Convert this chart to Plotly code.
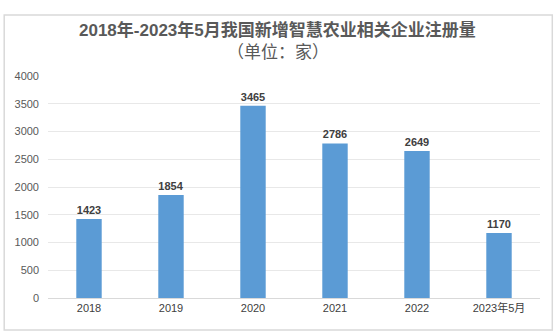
import plotly.graph_objects as go

categories = ["2018", "2019", "2020", "2021", "2022", "2023年5月"]
values = [1423, 1854, 3465, 2786, 2649, 1170]
y_ticks = [0, 500, 1000, 1500, 2000, 2500, 3000, 3500, 4000]

font_fam = "Liberation Sans, Noto Sans CJK SC, sans-serif"

fig = go.Figure(go.Bar(
    x=categories, y=values,
    marker=dict(color="#5B9BD5", line=dict(width=0)),
    width=0.31,
    text=[str(v) for v in values],
    textposition="outside",
    textfont=dict(size=11, color="#404040", family=font_fam),
    texttemplate="<b>%{text}</b>",
    cliponaxis=False,
))

fig.update_layout(
    width=559, height=333,
    margin=dict(l=48, r=19, t=76, b=35),
    paper_bgcolor="white", plot_bgcolor="white",
    showlegend=False,
    font=dict(family=font_fam, color="#595959"),
    xaxis=dict(showgrid=False, showline=True, linecolor="#D9D9D9", linewidth=1,
               ticks="", tickfont=dict(size=11, color="#404040")),
    yaxis=dict(range=[0, 4000], tickvals=y_ticks, showgrid=True, gridcolor="#E8E8E8",
               gridwidth=1, zeroline=False, showline=False, ticks="",
               tickfont=dict(size=11, color="#595959"), ticklabelstandoff=8),
    shapes=[dict(type="rect", xref="paper", yref="paper", x0=-0.089, x1=1.025, y0=-0.144, y1=1.275,
                 line=dict(color="#D9D9D9", width=1.5), fillcolor="rgba(0,0,0,0)")],
    annotations=[
        dict(text="<b>2018年-2023年5月我国新增智慧农业相关企业注册量</b>", xref="paper", yref="paper",
             x=0.467, y=1.0, yanchor="middle", yshift=46, showarrow=False,
             font=dict(size=17, color="#595959", family=font_fam)),
        dict(text="（单位：家）", xref="paper", yref="paper",
             x=0.467, y=1.0, yanchor="middle", yshift=24, showarrow=False,
             font=dict(size=17, color="#595959", family=font_fam)),
    ],
)

fig.write_html("out.html")
